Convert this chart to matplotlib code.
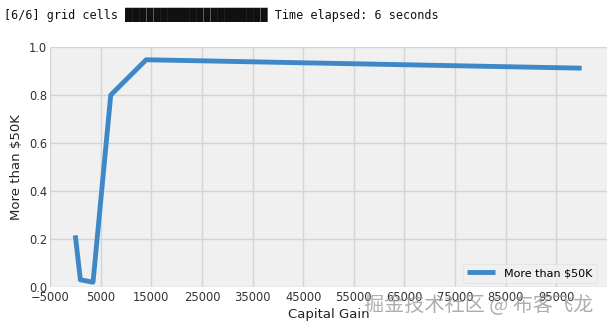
import matplotlib
matplotlib.use("Agg")
import matplotlib.pyplot as plt

# binned capital gain vs share of people earning more than $50K
capital_gain = [0, 1000, 3500, 7000, 14000, 99999]
more_than_50k = [0.215, 0.03, 0.02, 0.80, 0.947, 0.912]
x_ticks = list(range(-5000, 100000, 10000))

plt.style.use('fivethirtyeight')

fig = plt.figure(figsize=(6.14, 3.29), dpi=100, facecolor='white')
ax = fig.add_axes([0.0814, 0.1277, 0.9072, 0.7293])
ax.set_facecolor('#f0f0f0')

ax.plot(capital_gain, more_than_50k, color='#3f88c8', linewidth=3.5, label='More than $50K')

ax.set_xlim(-5000, 105000)
ax.set_ylim(0, 1.0)
ax.set_xticks(x_ticks)
ax.tick_params(axis='both', labelsize=8.3, length=0, labelcolor='#333333')
ax.tick_params(axis='x', pad=3)
ax.tick_params(axis='y', pad=2)
ax.grid(True, color='#d4d4d4', linewidth=1)
ax.set_xlabel('Capital Gain', fontsize=9.5, labelpad=3, color='#222222')
ax.set_ylabel('More than $50K', fontsize=9.5, labelpad=4, color='#222222')
for s in ax.spines.values():
    s.set_visible(False)

leg = ax.legend(loc='lower right', fontsize=8, frameon=True, facecolor='#f0f0f0',
                edgecolor='#dddddd', handlelength=2.5, borderaxespad=0.4,
                bbox_to_anchor=(0.99, 0.0))

# console progress output above the chart
fig.text(0.006, 0.955, '[6/6] grid cells ' + '\u2588' * 20 + ' Time elapsed: 6 seconds',
         family='DejaVu Sans Mono', fontsize=8.5, va='center', ha='left', color='#111111')

# watermark
fig.text(0.593, 0.072, '掘金技术社区 @ 布客飞龙', family=['Noto Sans CJK SC', 'DejaVu Sans'],
         fontsize=14.5, color='#9a9a9a', alpha=0.8, va='center', ha='left')

fig.savefig('out.png', dpi=100, facecolor='white')
